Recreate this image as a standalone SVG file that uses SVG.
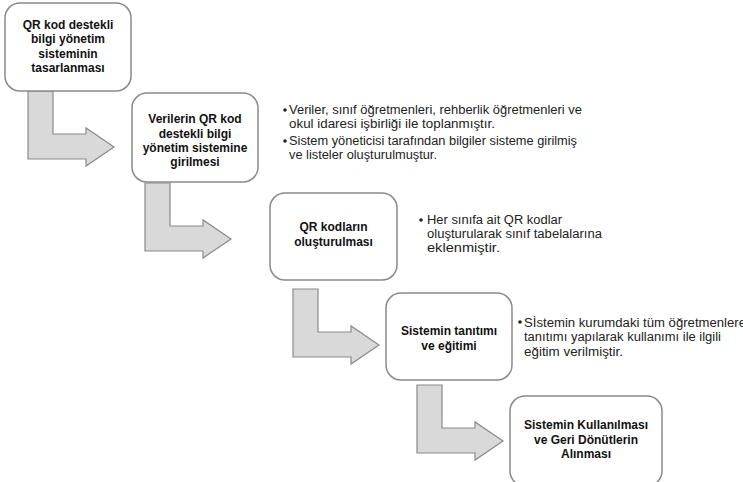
<svg xmlns="http://www.w3.org/2000/svg" width="743" height="482" viewBox="0 0 743 482">
<style>
.box{fill:#fff;stroke:#8a8a8a;stroke-width:1.5}
.arr{fill:#d9d9d9;stroke:#8a8a8a;stroke-width:1.2;stroke-linejoin:miter}
.bt{font-family:"Liberation Sans",Arial,sans-serif;font-weight:bold;font-size:12px;fill:#111;text-anchor:middle}
.tx{font-family:"Liberation Sans",Arial,sans-serif;font-size:12px;fill:#222}
.dot{fill:#222}
</style>
<rect width="743" height="482" fill="#fff"/>
<g id="connectors">
<polygon class="arr" points="28,91 53,91 53,134 86,134 86,128 114,147 86,166 86,159 28,159"/>
<polygon class="arr" points="145,183 170,183 170,226 203,226 203,220 231,239 203,258 203,251 145,251"/>
<polygon class="arr" points="293,289 318,289 318,332 351,332 351,326 379,345 351,364 351,357 293,357"/>
<polygon class="arr" points="417,385 442,385 442,428 475,428 475,422 503,441 475,460 475,453 417,453"/>
</g>
<g id="node1">
<rect class="box" x="5" y="3" width="126" height="88" rx="15"/>
<text class="bt" x="68" y="29">QR kod destekli</text>
<text class="bt" x="68" y="43">bilgi yönetim</text>
<text class="bt" x="68" y="57.5">sisteminin</text>
<text class="bt" x="68" y="72">tasarlanması</text>
</g>
<g id="node2">
<rect class="box" x="132" y="93" width="126" height="89" rx="15"/>
<text class="bt" x="195" y="123">Verilerin QR kod</text>
<text class="bt" x="195" y="137.5">destekli bilgi</text>
<text class="bt" x="195" y="152">yönetim sistemine</text>
<text class="bt" x="195" y="166">girilmesi</text>
</g>
<g id="note1">
<circle class="dot" cx="285" cy="110" r="1.8"/>
<text class="tx" x="289" y="114" textLength="293" lengthAdjust="spacingAndGlyphs">Veriler, sınıf öğretmenleri, rehberlik öğretmenleri ve</text>
<text class="tx" x="289" y="128" textLength="206" lengthAdjust="spacingAndGlyphs">okul idaresi işbirliği ile toplanmıştır.</text>
<circle class="dot" cx="285" cy="141" r="1.8"/>
<text class="tx" x="289" y="145" textLength="288" lengthAdjust="spacingAndGlyphs">Sistem yöneticisi tarafından bilgiler sisteme girilmiş</text>
<text class="tx" x="289" y="159" textLength="148" lengthAdjust="spacingAndGlyphs">ve listeler oluşturulmuştur.</text>
</g>
<g id="node3">
<rect class="box" x="270" y="193" width="127" height="87" rx="15"/>
<text class="bt" x="333.5" y="231">QR kodların</text>
<text class="bt" x="333.5" y="246">oluşturulması</text>
</g>
<g id="note2">
<circle class="dot" cx="421" cy="220" r="1.8"/>
<text class="tx" x="427" y="224" textLength="135" lengthAdjust="spacingAndGlyphs">Her sınıfa ait QR kodlar</text>
<text class="tx" x="427" y="238" textLength="175" lengthAdjust="spacingAndGlyphs">oluşturularak sınıf tabelalarına</text>
<text class="tx" x="427" y="252" textLength="73" lengthAdjust="spacingAndGlyphs">eklenmiştir.</text>
</g>
<g id="node4">
<rect class="box" x="386" y="293" width="126" height="87" rx="15"/>
<text class="bt" x="449" y="335">Sistemin tanıtımı</text>
<text class="bt" x="449" y="349.5">ve eğitimi</text>
</g>
<g id="note3">
<circle class="dot" cx="520" cy="322" r="1.8"/>
<text class="tx" x="524" y="327" textLength="222" lengthAdjust="spacingAndGlyphs">Sİstemin kurumdaki tüm öğretmenlere</text>
<text class="tx" x="524" y="341" textLength="197" lengthAdjust="spacingAndGlyphs">tanıtımı yapılarak kullanımı ile ilgili</text>
<text class="tx" x="524" y="356" textLength="99" lengthAdjust="spacingAndGlyphs">eğitim verilmiştir.</text>
</g>
<g id="node5">
<rect class="box" x="510" y="396" width="152" height="90" rx="15"/>
<text class="bt" x="586" y="429">Sistemin Kullanılması</text>
<text class="bt" x="586" y="443.5">ve Geri Dönütlerin</text>
<text class="bt" x="586" y="458">Alınması</text>
</g>
</svg>
